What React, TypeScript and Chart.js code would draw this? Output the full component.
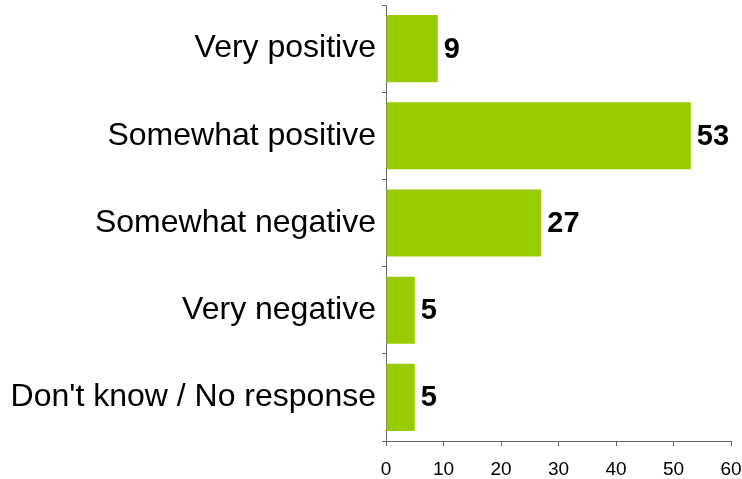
import React, { useEffect, useRef } from "react";
import { Chart, registerables } from "chart.js";

Chart.register(...registerables);

const categories = [
  "Very positive",
  "Somewhat positive",
  "Somewhat negative",
  "Very negative",
  "Don't know / No response",
];
const values = [9, 53, 27, 5, 5];
const xTicks = [0, 10, 20, 30, 40, 50, 60];

const FONT = "Arial, 'Liberation Sans', Helvetica, sans-serif";

const valueLabels = {
  id: "valueLabels",
  afterDatasetsDraw(chart: any) {
    const ctx = chart.ctx;
    const meta = chart.getDatasetMeta(0);
    ctx.save();
    ctx.font = `bold 29px ${FONT}`;
    ctx.fillStyle = "#000";
    ctx.textAlign = "left";
    ctx.textBaseline = "middle";
    meta.data.forEach((bar: any, i: number) => {
      ctx.fillText(String(values[i]), bar.x + 6, bar.y + 1);
    });
    ctx.restore();
  },
};

export default function App() {
  const ref = useRef<HTMLCanvasElement>(null);
  useEffect(() => {
    if (!ref.current) return;
    const chart = new Chart(ref.current, {
      type: "bar",
      data: {
        labels: categories,
        datasets: [
          {
            data: values,
            backgroundColor: "#99CC00",
            borderWidth: 0,
            categoryPercentage: 0.77,
            barPercentage: 1,
          },
        ],
      },
      options: {
        indexAxis: "y",
        animation: false,
        responsive: false,
        maintainAspectRatio: false,
        layout: { padding: { top: 5, right: 11, left: 0, bottom: 0 } },
        plugins: {
          legend: { display: false },
          tooltip: { enabled: false },
        },
        scales: {
          x: {
            min: 0,
            max: 60,
            afterBuildTicks(scale: any) {
              scale.ticks = xTicks.map((v) => ({ value: v }));
            },
            afterFit(scale: any) {
              scale.height = 38;
              scale.paddingLeft = 0;
              scale.paddingRight = 0;
            },
            grid: {
              drawOnChartArea: false,
              drawTicks: true,
              tickLength: 5,
              color: "#666",
            },
            border: { color: "#666", width: 1 },
            ticks: {
              padding: 12,
              color: "#000",
              font: { family: FONT, size: 19 },
              maxRotation: 0,
            },
          },
          y: {
            afterFit(scale: any) {
              scale.width = 386;
              scale.paddingTop = 0;
              scale.paddingBottom = 0;
            },
            grid: {
              drawOnChartArea: false,
              drawTicks: true,
              tickLength: 4,
              offset: true,
              color: "#666",
            },
            border: { color: "#666", width: 1 },
            ticks: {
              padding: 6,
              color: "#000",
              font: { family: FONT, size: 32 },
            },
          },
        },
      },
      plugins: [valueLabels],
    });
    return () => chart.destroy();
  }, []);
  return (
    <div style={{ position: "fixed", left: 0, top: 0, width: 742, height: 479, background: "#fff" }}>
      <canvas ref={ref} width={742} height={479} style={{ display: "block" }} />
    </div>
  );
}
